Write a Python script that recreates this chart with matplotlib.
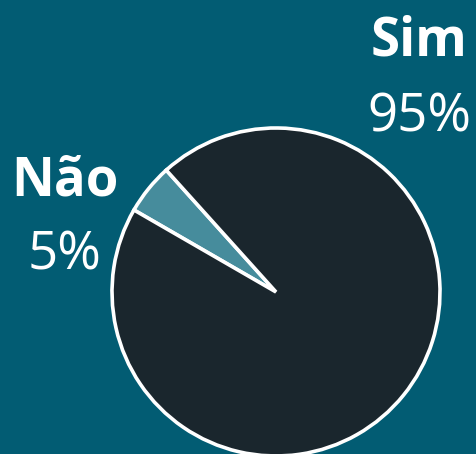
import matplotlib.pyplot as plt

labels = ["Não", "Sim"]
values = [5, 95]
pct_labels = ["5%", "95%"]

bg = "#025C73"
colors = ["#468C9C", "#1A262D"]

fig = plt.figure(figsize=(4.77, 4.54), dpi=100, facecolor=bg)
ax = fig.add_axes([0, 0, 1, 1])
ax.set_facecolor(bg)

ax.pie(values, colors=colors, startangle=132, counterclock=True,
       center=(276, 162), radius=164, explode=[0.02, 0],
       wedgeprops=dict(edgecolor="white", linewidth=2.6))

ax.set_xlim(0, 477)
ax.set_ylim(0, 454)
ax.set_aspect("equal")
ax.axis("off")

font = "Open Sans"
ax.text(419, 399, labels[1], ha="center", va="baseline", color="white",
        fontsize=38, fontweight="bold", family=font)
ax.text(419, 322, pct_labels[1], ha="center", va="baseline", color="white",
        fontsize=38, family=font)
ax.text(65, 258, labels[0], ha="center", va="baseline", color="white",
        fontsize=38, fontweight="bold", family=font)
ax.text(65, 184, pct_labels[0], ha="center", va="baseline", color="white",
        fontsize=38, family=font)

fig.savefig("out.png", dpi=100, facecolor=bg)
